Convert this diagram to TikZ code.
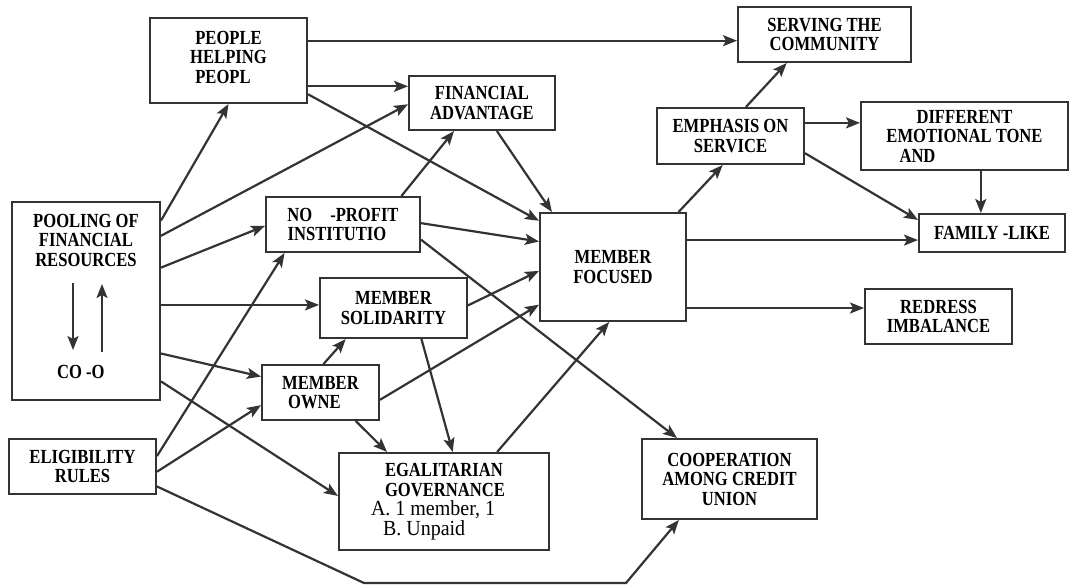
\documentclass[tikz,border=0pt]{standalone}
\usepackage{fontspec}
\setmainfont{Liberation Serif}[FakeStretch=0.83]
\newfontfamily\plainserif{Liberation Serif}[FakeStretch=0.93]
\usetikzlibrary{arrows.meta}

\begin{document}
\begin{tikzpicture}[x=1pt,y=-1pt,line width=2pt,
  box/.style={draw=black!80,rectangle,inner sep=0pt,align=center,
    font=\fontsize{20}{19.5}\selectfont\bfseries},
  label/.style={inner sep=0pt,align=center,font=\fontsize{20}{19.5}\selectfont\bfseries},
  link/.style={draw=black!80,line width=2.2pt,-{Stealth[length=14pt,width=11pt,inset=3pt]}}]
\useasboundingbox (0,0) rectangle (1076,585);
\node[box,minimum width=157pt,minimum height=85pt] (people) at (228.5,60.5) {PEOPLE\\HELPING\\PEOPL\phantom{E}\\[-12.5pt]};
\node[box,minimum width=173pt,minimum height=55pt] (serving) at (824.5,34.5) {SERVING THE\\COMMUNITY};
\node[box,minimum width=146pt,minimum height=54pt] (finadv) at (482,103) {FINANCIAL\\ADVANTAGE};
\node[box,minimum width=147pt,minimum height=56pt] (emphasis) at (730.5,136) {EMPHASIS ON\\SERVICE};
\node[box,minimum width=207pt,minimum height=68pt] (different) at (964.5,136) {DIFFERENT\\EMOTIONAL TONE\\AND\hspace*{94pt}};
\node[box,minimum width=148pt,minimum height=198pt] (pooling) at (86,301) {};
\node[label] (pooltext) at (86,240) {POOLING OF\\FINANCIAL\\RESOURCES};
\node[label] (coop-label) at (86,372) {CO -O\phantom{P}};
\node[box,minimum width=154pt,minimum height=55pt] (noprofit) at (343,224.5) {NO\hspace{18pt}-PROFIT\\INSTITUTIO\phantom{N}};
\node[box,minimum width=146pt,minimum height=108pt] (focused) at (613,267) {MEMBER\\FOCUSED};
\node[box,minimum width=146pt,minimum height=38pt] (family) at (992,233) {FAMILY -LIKE};
\node[box,minimum width=147pt,minimum height=60pt] (solidarity) at (393.5,308) {MEMBER\\SOLIDARITY};
\node[box,minimum width=147pt,minimum height=55pt] (redress) at (938.5,316.5) {REDRESS\\IMBALANCE};
\node[box,minimum width=117pt,minimum height=55pt] (owne) at (320.5,392.5) {MEMBER\\OWNE\phantom{R}};
\node[box,minimum width=147pt,minimum height=55pt] (eligibility) at (82.5,466.5) {ELIGIBILITY\\RULES};
\node[box,minimum width=210pt,minimum height=97pt] (egal) at (444,501.5) {};
\node[label,align=left,anchor=west] (egaltext) at (370,501.5) {\hspace*{14pt}EGALITARIAN\\\hspace*{14pt}GOVERNANCE\\{\plainserif\mdseries\fontsize{21.5}{19.5}\selectfont A. 1 member, 1}\\{\plainserif\mdseries\fontsize{21.5}{19.5}\selectfont\hspace*{12pt}B. Unpaid}};
\node[box,minimum width=175pt,minimum height=80pt] (coop) at (729.5,479) {COOPERATION\\AMONG CREDIT\\UNION};
\coordinate (bendA) at (364,583);
\coordinate (bendB) at (626,583);
\draw[link,line width=1.6pt] ([xshift=-13pt,yshift=18pt]pooling.center) -- ([xshift=-13pt,yshift=-49pt]pooling.center);
\draw[link,line width=1.6pt] ([xshift=16pt,yshift=-51pt]pooling.center) -- ([xshift=16pt,yshift=17pt]pooling.center);
\draw[link] (people.14.6) -- (people.14.6 -| serving.west);
\draw[link] (people.-18) -- (people.-18 -| finadv.west);
\draw[link] (people.-23.7) -- (focused.148.3);
\draw[link] (pooling.47.9) -- (people.south);
\draw[link] (pooling.41.3) -- (finadv.181.6);
\draw[link] (pooling.24.7) -- (noprofit.181.9);
\draw[link] (pooling.-3.1) -- (pooling.-3.1 -| solidarity.west);
\draw[link] (pooling.-35.1) -- (owne.165.2);
\draw[link] (pooling.-47.6) -- (egal.177.5);
\draw[link] (eligibility.8.1) -- (noprofit.-154.2);
\draw[link] (eligibility.-4.3) -- (owne.192.1);
\draw[link] (eligibility.-15.6) -- (bendA) -- (bendB) -- (coop.-141.1);
\draw[link] (noprofit.26.6) -- (finadv.-135);
\draw[link] (noprofit.1.9) -- (focused.161.8);
\draw[link] (noprofit.-11.4) -- (coop.142.2);
\draw[link] (finadv.-62.6) -- (focused.138.5);
\draw[link] (solidarity.2.3) -- (focused.183.9);
\draw[link] (solidarity.-48.5) -- (egal.80.6);
\draw[link] (owne.84.8) -- (solidarity.-147.7);
\draw[link] (owne.-7.3) -- (focused.-153.1);
\draw[link] (owne.-39.4) -- (egal.139.1);
\draw[link] (egal.43) -- (focused.-94.2);
\draw[link] (focused.40.6) -- (emphasis.-105);
\draw[link] (emphasis.62.6) -- (serving.-143);
\draw[link] (emphasis.10) -- (emphasis.10 -| different.west);
\draw[link] (emphasis.-13) -- (family.170.7);
\draw[link] (different.-65.5) -- (different.-65.5 |- family.north);
\draw[link] (focused.20.3) -- (focused.20.3 -| family.west);
\draw[link] (focused.-29.3) -- (focused.-29.3 -| redress.west);
\end{tikzpicture}
\end{document}
